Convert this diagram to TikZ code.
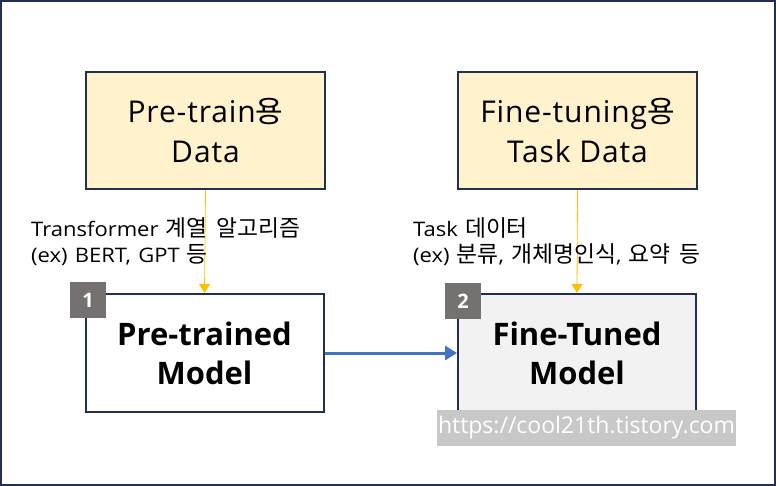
\documentclass[tikz,border=0pt]{standalone}
\usepackage{fontspec}
\setmainfont{Open Sans}
\newfontfamily\kr{Noto Sans CJK KR}
\newfontfamily\krl[Scale=1.14, WordSpace=1.7]{Noto Sans CJK KR}
\newfontfamily\lblfont[FakeStretch=1.1, WordSpace=1.25]{Open Sans}
\newfontfamily\datafont[LetterSpace=3]{Open Sans}
\usetikzlibrary{arrows.meta}
\definecolor{navy}{HTML}{1F3050}
\definecolor{datafill}{HTML}{FFF2CC}
\definecolor{tunedfill}{HTML}{F2F2F2}
\definecolor{badgegray}{HTML}{767171}
\definecolor{gold}{HTML}{FFC000}
\definecolor{blueline}{HTML}{4472C4}
\definecolor{wmgray}{HTML}{C8C8C8}
\tikzset{
  databox/.style={draw=navy, line width=2pt, fill=datafill, minimum width=239pt, minimum height=117pt, align=center, inner sep=0pt, font=\datafont\fontsize{30}{40}\selectfont},
  modelbox/.style={draw=navy, line width=2pt, minimum width=238pt, minimum height=118pt, align=center, inner sep=0pt, font=\fontsize{31}{39}\selectfont\bfseries},
  badge/.style={fill=badgegray, minimum width=36pt, minimum height=36pt, inner sep=0pt, text=white, font=\fontsize{20}{20}\selectfont\bfseries},
  lbl/.style={anchor=base west, inner sep=0pt, font=\lblfont\fontsize{20}{26}\selectfont},
  feed/.style={draw=gold, line width=0.8pt, -{Triangle[length=9pt,width=11pt]}},
}
\begin{document}
\begin{tikzpicture}[x=1pt,y=-1pt]
\useasboundingbox (0,0) rectangle (776,486);
\fill[white] (0,0) rectangle (776,486);
\draw[navy, line width=2pt] (1,1) rectangle (775,485);
\node[databox] (pre) at (205.5,130.5) {Pre-train{\kr 용}\\Data};
\node[databox] (fine) at (577.5,130.5) {Fine-tuning{\kr 용}\\Task Data};
\node[modelbox, fill=white] (ptm) at (204.5,353) {Pre-trained\\Model};
\node[modelbox, fill=tunedfill] (ftm) at (577,353) {Fine-Tuned\\Model};
\node[badge] (b1) at (88,300) {1};
\node[badge] (b2) at (463,301) {2};
\draw[feed] (pre.south) -- (ptm.north);
\draw[feed] (fine.south) -- (ftm.north);
\draw[blueline, line width=3pt, -{Triangle[length=12pt,width=14pt]}] (ptm.east) -- (ftm.west);
\node[lbl] (l1a) at (31,237) {Transformer {\krl 계열 알고리즘}};
\node[lbl] (l1b) at (31,263) {(ex) BERT, GPT {\krl 등}};
\node[lbl] (l2a) at (413,237) {Task {\krl 데이터}};
\node[lbl] (l2b) at (413,263) {(ex) {\krl 분류}, {\krl 개체명인식}, {\krl 요약 등}};
\node[fill=wmgray, text=white, minimum width=299pt, minimum height=36pt, inner sep=0pt, font=\fontsize{23}{23}\selectfont] (wm) at (586.5,428) {https://cool21th.tistory.com};
\end{tikzpicture}
\end{document}
